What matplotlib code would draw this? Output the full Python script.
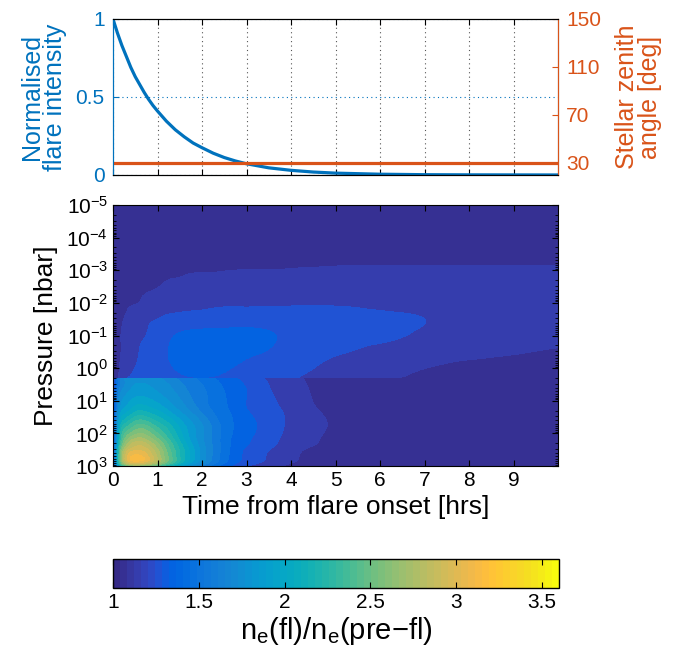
import numpy as np
import matplotlib
matplotlib.use('Agg')
import matplotlib.pyplot as plt
from matplotlib.colors import ListedColormap, Normalize
from matplotlib.ticker import LogLocator, LogFormatterMathtext, NullFormatter
from matplotlib.tri import Triangulation, UniformTriRefiner
import matplotlib.cm as cm

plt.rcParams['font.family'] = ['Liberation Sans', 'DejaVu Sans']
plt.rcParams['mathtext.fontset'] = 'custom'
plt.rcParams['mathtext.rm'] = 'Liberation Sans'
plt.rcParams['mathtext.it'] = 'Liberation Sans:italic'
plt.rcParams['mathtext.bf'] = 'Liberation Sans:bold'

# ---------------- data ----------------
flare_time = [0, 0.1, 0.2, 0.3, 0.4, 0.5, 0.6, 0.7, 0.8, 0.9, 1.0, 1.2, 1.4, 1.6, 1.8, 2.0,
              2.25, 2.5, 2.75, 3, 3.5, 4, 4.5, 5, 6, 7, 8, 10]
flare_intensity = [1.0, 0.91, 0.83, 0.76, 0.69, 0.63, 0.58, 0.53, 0.485, 0.445, 0.41, 0.345,
                   0.29, 0.245, 0.205, 0.175, 0.14, 0.112, 0.09, 0.072, 0.046, 0.03, 0.019,
                   0.012, 0.005, 0.002, 0.001, 0.0002]

zenith_time = [0, 10]
zenith_angle = [30, 30]

grid_time = [0, 0.1, 0.25, 0.5, 0.75, 1, 1.25, 1.5, 2, 2.5, 3, 3.5, 4, 4.5, 5, 5.5, 6, 7, 8, 9, 10]

# upper atmosphere (above the sharp jump near 2.2 nbar)
upper_pressure = [1e-5, 1e-4, 3.2e-4, 1e-3, 3.2e-3, 1e-2, 3.2e-2, 0.1, 0.32, 1, 2.2]
upper_ratio = [
    [1.00, 1.00, 1.00, 1.00, 1.00, 1.00, 1.00, 1.00, 1.00, 1.00, 1.00, 1.00, 1.00, 1.00, 1.00, 1.00, 1.00, 1.00, 1.00, 1.00, 1.00],
    [1.00, 1.00, 1.00, 1.00, 1.00, 1.00, 1.00, 1.00, 1.00, 1.00, 1.00, 1.00, 1.00, 1.00, 1.00, 1.00, 1.00, 1.00, 1.00, 1.00, 1.00],
    [1.00, 1.00, 1.01, 1.02, 1.03, 1.04, 1.04, 1.05, 1.05, 1.05, 1.05, 1.05, 1.05, 1.05, 1.05, 1.05, 1.05, 1.05, 1.05, 1.05, 1.05],
    [1.00, 1.00, 1.01, 1.03, 1.05, 1.06, 1.07, 1.08, 1.09, 1.095, 1.10, 1.10, 1.105, 1.11, 1.115, 1.12, 1.12, 1.12, 1.12, 1.12, 1.12],
    [1.00, 1.01, 1.04, 1.07, 1.08, 1.095, 1.12, 1.13, 1.15, 1.16, 1.16, 1.16, 1.16, 1.16, 1.16, 1.16, 1.16, 1.16, 1.16, 1.16, 1.16],
    [1.00, 1.03, 1.07, 1.095, 1.12, 1.15, 1.16, 1.17, 1.18, 1.19, 1.19, 1.19, 1.19, 1.19, 1.19, 1.185, 1.18, 1.17, 1.16, 1.16, 1.16],
    [1.00, 1.05, 1.10, 1.15, 1.18, 1.20, 1.22, 1.23, 1.24, 1.25, 1.25, 1.25, 1.25, 1.25, 1.24, 1.23, 1.22, 1.20, 1.17, 1.15, 1.14],
    [1.00, 1.06, 1.12, 1.17, 1.20, 1.24, 1.28, 1.31, 1.33, 1.33, 1.33, 1.31, 1.28, 1.26, 1.25, 1.23, 1.22, 1.18, 1.15, 1.13, 1.12],
    [1.00, 1.06, 1.12, 1.18, 1.23, 1.27, 1.30, 1.33, 1.35, 1.35, 1.32, 1.29, 1.25, 1.23, 1.21, 1.19, 1.17, 1.14, 1.12, 1.105, 1.09],
    [1.00, 1.07, 1.14, 1.20, 1.24, 1.27, 1.29, 1.31, 1.33, 1.31, 1.27, 1.24, 1.22, 1.20, 1.17, 1.15, 1.13, 1.10, 1.08, 1.07, 1.06],
    [1.00, 1.08, 1.18, 1.22, 1.25, 1.26, 1.27, 1.28, 1.29, 1.28, 1.26, 1.23, 1.205, 1.18, 1.15, 1.13, 1.11, 1.09, 1.08, 1.07, 1.06],
]

# lower atmosphere (below the jump)
lower_pressure = [2.2, 5.6, 18, 56, 180, 320, 560, 800, 1000]
lower_ratio = [
    [1.00, 1.45, 1.68, 1.76, 1.76, 1.72, 1.65, 1.58, 1.47, 1.36, 1.26, 1.19, 1.13, 1.08, 1.05, 1.03, 1.02, 1.01, 1.00, 1.00, 1.00],
    [1.00, 1.50, 1.75, 1.85, 1.85, 1.80, 1.74, 1.66, 1.52, 1.40, 1.30, 1.21, 1.15, 1.09, 1.05, 1.03, 1.02, 1.01, 1.00, 1.00, 1.00],
    [1.00, 1.60, 1.90, 2.04, 2.04, 1.97, 1.87, 1.77, 1.56, 1.42, 1.30, 1.23, 1.17, 1.11, 1.06, 1.03, 1.02, 1.01, 1.00, 1.00, 1.00],
    [1.00, 1.75, 2.20, 2.38, 2.38, 2.25, 2.12, 1.96, 1.70, 1.46, 1.34, 1.25, 1.18, 1.13, 1.08, 1.04, 1.02, 1.01, 1.00, 1.00, 1.00],
    [1.00, 1.85, 2.50, 2.78, 2.74, 2.56, 2.33, 2.10, 1.72, 1.45, 1.31, 1.23, 1.16, 1.11, 1.06, 1.03, 1.02, 1.01, 1.00, 1.00, 1.00],
    [1.00, 1.95, 2.70, 2.97, 2.92, 2.70, 2.43, 2.18, 1.75, 1.45, 1.28, 1.20, 1.13, 1.08, 1.05, 1.03, 1.02, 1.01, 1.00, 1.00, 1.00],
    [1.00, 2.00, 2.82, 3.15, 3.05, 2.78, 2.48, 2.20, 1.75, 1.44, 1.27, 1.19, 1.12, 1.07, 1.04, 1.02, 1.01, 1.00, 1.00, 1.00, 1.00],
    [1.00, 1.90, 2.66, 2.95, 2.86, 2.65, 2.38, 2.10, 1.68, 1.40, 1.24, 1.17, 1.10, 1.06, 1.03, 1.02, 1.01, 1.00, 1.00, 1.00, 1.00],
    [1.00, 1.60, 2.20, 2.45, 2.40, 2.25, 2.05, 1.88, 1.55, 1.33, 1.20, 1.13, 1.07, 1.04, 1.02, 1.01, 1.00, 1.00, 1.00, 1.00, 1.00],
]

cbar_ticks = [1, 1.5, 2, 2.5, 3, 3.5]
cbar_ticklabels = ['1', '1.5', '2', '2.5', '3', '3.5']

# ---------------- style ----------------
parula_rgb = [
    [0.2081, 0.1663, 0.5292], [0.2116, 0.1898, 0.5777], [0.2123, 0.2138, 0.6270], [0.2081, 0.2386, 0.6771],
    [0.1959, 0.2645, 0.7279], [0.1707, 0.2919, 0.7792], [0.1253, 0.3242, 0.8303], [0.0591, 0.3598, 0.8683],
    [0.0117, 0.3875, 0.8820], [0.0060, 0.4086, 0.8828], [0.0165, 0.4266, 0.8786], [0.0329, 0.4430, 0.8720],
    [0.0498, 0.4586, 0.8641], [0.0629, 0.4737, 0.8554], [0.0723, 0.4887, 0.8467], [0.0779, 0.5040, 0.8384],
    [0.0793, 0.5200, 0.8312], [0.0749, 0.5375, 0.8263], [0.0641, 0.5570, 0.8240], [0.0488, 0.5772, 0.8228],
    [0.0343, 0.5966, 0.8199], [0.0265, 0.6137, 0.8135], [0.0239, 0.6287, 0.8038], [0.0231, 0.6418, 0.7913],
    [0.0228, 0.6535, 0.7768], [0.0267, 0.6642, 0.7607], [0.0384, 0.6743, 0.7436], [0.0590, 0.6838, 0.7254],
    [0.0843, 0.6928, 0.7062], [0.1133, 0.7015, 0.6859], [0.1453, 0.7098, 0.6646], [0.1801, 0.7177, 0.6424],
    [0.2178, 0.7250, 0.6193], [0.2586, 0.7317, 0.5954], [0.3022, 0.7376, 0.5712], [0.3482, 0.7424, 0.5473],
    [0.3953, 0.7459, 0.5244], [0.4420, 0.7481, 0.5033], [0.4871, 0.7491, 0.4840], [0.5300, 0.7491, 0.4661],
    [0.5709, 0.7485, 0.4494], [0.6099, 0.7473, 0.4337], [0.6473, 0.7456, 0.4188], [0.6834, 0.7435, 0.4044],
    [0.7184, 0.7411, 0.3905], [0.7525, 0.7384, 0.3768], [0.7858, 0.7356, 0.3633], [0.8185, 0.7327, 0.3498],
    [0.8507, 0.7299, 0.3360], [0.8824, 0.7274, 0.3217], [0.9139, 0.7258, 0.3063], [0.9450, 0.7261, 0.2886],
    [0.9739, 0.7314, 0.2666], [0.9938, 0.7455, 0.2403], [0.9990, 0.7653, 0.2164], [0.9955, 0.7861, 0.1967],
    [0.9880, 0.8066, 0.1794], [0.9789, 0.8271, 0.1633], [0.9697, 0.8481, 0.1475], [0.9626, 0.8705, 0.1309],
    [0.9589, 0.8949, 0.1132], [0.9598, 0.9218, 0.0948], [0.9661, 0.9514, 0.0755], [0.9763, 0.9831, 0.0538],
]
parula = ListedColormap(parula_rgb, name='parula')
norm = Normalize(vmin=1.0, vmax=3.6)

BLUE = '#0072BD'
ORANGE = '#D95319'
FS = 15
LFS = 19

W, H = 681, 659
fig = plt.figure(figsize=(W / 100, H / 100), dpi=100)


def rect(x0, y0, x1, y1):
    return [x0 / W, 1 - y1 / H, (x1 - x0) / W, (y1 - y0) / H]


def grid_triangles(ny, nx):
    tris = []
    for i in range(ny - 1):
        for j in range(nx - 1):
            a = i * nx + j
            b, c, d = a + 1, a + nx, a + nx + 1
            tris.append([a, b, d])
            tris.append([a, d, c])
    return np.array(tris)


# ---------------- top panel ----------------
ax1 = fig.add_axes(rect(113, 19, 558, 175))
ax1.plot(flare_time, flare_intensity, color=BLUE, lw=2.3)
ax1.set_xlim(0, 10)
ax1.set_ylim(0, 1)
ax1.set_xticks(range(0, 10))
ax1.set_yticks([0, 0.5, 1])
ax1.set_yticklabels(['0', '0.5', '1'])
ax1.tick_params(axis='x', which='both', direction='in', top=True, bottom=True,
                labelbottom=False, length=4)
ax1.tick_params(axis='y', direction='in', colors=BLUE, labelsize=FS, length=4, pad=6)
ax1.grid(axis='x', linestyle=(0, (1, 3)), color='#555555', lw=0.8)
ax1.grid(axis='y', linestyle=(0, (1, 3)), color=BLUE, lw=0.8)
ax1.set_ylabel('Normalised\nflare intensity', color=BLUE, fontsize=LFS - 1,
               linespacing=0.95, labelpad=6)
ax1.spines['left'].set_color(BLUE)

ax2 = ax1.twinx()
ax2.plot(zenith_time, zenith_angle, color=ORANGE, lw=2.3)
ax2.set_ylim(20, 150)
ax2.set_yticks([30, 70, 110, 150])
ax2.tick_params(axis='y', direction='in', colors=ORANGE, labelsize=FS, length=4, pad=6)
ax2.spines['right'].set_color(ORANGE)
ax2.spines['left'].set_color(BLUE)
ax2.set_ylabel('Stellar zenith\nangle [deg]', color=ORANGE, fontsize=LFS - 1,
               linespacing=0.95, labelpad=10)

# ---------------- contour panel ----------------
ax3 = fig.add_axes(rect(113, 205, 558, 466))
levels = np.round(np.arange(1.0, 3.55, 0.1), 2)
bounds = np.concatenate([[0.0], levels[1:], [10.0]])
fill_colors = [parula(norm(lv + 0.05)) for lv in levels]

for pres, ratio in ((upper_pressure, upper_ratio), (lower_pressure, lower_ratio)):
    tt, pp = np.meshgrid(grid_time, pres)
    tri = Triangulation(tt.ravel(), np.log10(pp).ravel(),
                        grid_triangles(len(pres), len(grid_time)))
    tri_r, z_r = UniformTriRefiner(tri).refine_field(np.array(ratio).ravel(), subdiv=3)
    tri_p = Triangulation(tri_r.x, 10.0 ** tri_r.y, tri_r.triangles)
    cs = ax3.tricontourf(tri_p, z_r, levels=bounds, colors=fill_colors)
    cs.set_edgecolor('face')
    cs.set_linewidth(0.6)

ax3.set_yscale('log')
ax3.set_ylim(1e3, 1e-5)
ax3.set_xlim(0, 10)
ax3.set_xticks(range(0, 10))
ax3.yaxis.set_major_locator(LogLocator(base=10, numticks=20))
ax3.yaxis.set_major_formatter(LogFormatterMathtext())
ax3.yaxis.set_minor_locator(LogLocator(base=10, subs=np.arange(2, 10), numticks=20))
ax3.yaxis.set_minor_formatter(NullFormatter())
ax3.tick_params(axis='both', which='both', direction='in', top=True, right=True,
                labelsize=FS)
ax3.tick_params(axis='both', which='major', length=4)
ax3.tick_params(axis='y', which='minor', length=2)
ax3.set_xlabel('Time from flare onset [hrs]', fontsize=LFS, labelpad=4)
ax3.set_ylabel('Pressure [nbar]', fontsize=LFS, labelpad=6)
ax3.set_axisbelow(False)

# ---------------- colour bar ----------------
cax = fig.add_axes(rect(113, 559, 559, 588))
sm = cm.ScalarMappable(norm=norm, cmap=parula)
cb = fig.colorbar(sm, cax=cax, orientation='horizontal')
cb.set_ticks(cbar_ticks)
cb.set_ticklabels(cbar_ticklabels)
cb.ax.tick_params(direction='in', top=True, bottom=True, length=4, labelsize=FS)
cb.outline.set_linewidth(1.0)
cb.set_label(r'n$_\mathregular{e}$(fl)/n$_\mathregular{e}$(pre$-$fl)', fontsize=FS + 6, labelpad=2)

fig.savefig('out.png', dpi=100)
